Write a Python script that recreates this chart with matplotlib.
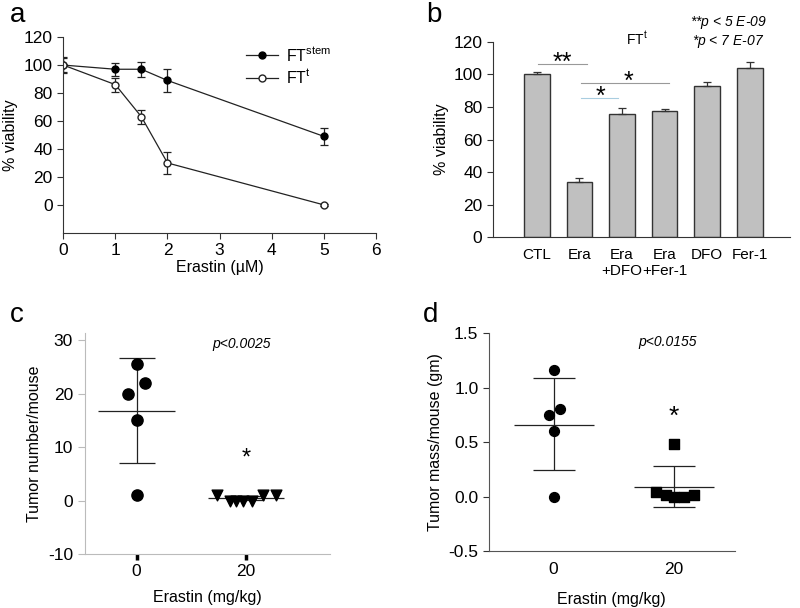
import matplotlib
matplotlib.use("Agg")
import matplotlib.pyplot as plt
from matplotlib.lines import Line2D
import numpy as np

plt.rcParams['font.family'] = ['Liberation Sans', 'DejaVu Sans']
plt.rcParams['mathtext.fontset'] = 'custom'
plt.rcParams['mathtext.rm'] = 'Liberation Sans'
plt.rcParams['mathtext.it'] = 'Liberation Sans:italic'
plt.rcParams['axes.unicode_minus'] = False

# panel a: dose response
doses_a = [0, 1, 1.5, 2, 5]
stem_vals = [100, 97, 97, 89, 49]
stem_err = [6, 4.5, 5.5, 8, 6]
ft_vals = [100, 86, 63, 30, 0]
ft_err = [5, 5, 5, 8, 0.5]

# panel b: bar chart
b_labels = ["CTL", "Era", "Era\n+DFO", "Era\n+Fer-1", "DFO", "Fer-1"]
b_vals = [100, 34, 76, 77.5, 93, 104]
b_err = [1.5, 2.5, 3.2, 1.5, 2.5, 3.5]

# panel c: tumor number
c_groups = [0, 20]
c_pts0 = [25.5, 22, 20, 15, 1]
c_jit0 = [0, 1.6, -1.5, 0, 0]
c_pts20 = [1, 0, 0, 0, 0, 1, 1]
c_jit20 = [-5.3, -2.9, -1.8, -0.5, 1.1, 3.1, 5.5]
c_mean = [16.7, 0.5]
c_lo = [7.1, 0.1]
c_hi = [26.6, 0.9]

# panel d: tumor mass
d_pts0 = [1.16, 0.80, 0.75, 0.60, 0.0]
d_jit0 = [0, 1.0, -0.7, 0, 0]
d_pts20 = [0.48, 0.04, 0.01, 0.0, 0.0, 0.01]
d_jit20 = [0, -3.0, -1.3, 0, 1.8, 3.4]
d_mean = [0.66, 0.09]
d_lo = [0.24, -0.10]
d_hi = [1.09, 0.28]

TICK = 12.5
LAB = 11.5

fig = plt.figure(figsize=(8, 6.08), dpi=100)

# ---------------- a ----------------
ax = fig.add_axes([0.079, 0.617, 0.391, 0.322])
ax.errorbar(doses_a, stem_vals, yerr=stem_err, color='#222222', lw=0.9, marker='o',
            ms=5, mfc='black', mec='black', capsize=3, elinewidth=0.9, capthick=0.9)
ax.errorbar(doses_a, ft_vals, yerr=ft_err, color='#222222', lw=0.9, marker='o',
            ms=5, mfc='white', mec='#222222', capsize=3, elinewidth=0.9, capthick=0.9)
ax.set_xlim(0, 6)
ax.set_ylim(-20, 120)
ax.set_yticks(range(0, 121, 20))
ax.set_xticks(range(0, 7))
for s in ['top', 'right']:
    ax.spines[s].set_visible(False)
for s in ['left', 'bottom']:
    ax.spines[s].set_color('#333333')
    ax.spines[s].set_linewidth(0.8)
ax.tick_params(labelsize=TICK, length=4, width=0.8, color='#333333')
ax.set_xlabel("Erastin (\u00b5M)", fontsize=LAB, labelpad=1)
ax.set_ylabel("% viability", fontsize=LAB, labelpad=4)
handles = [Line2D([], [], color='#222222', lw=0.9, marker='o', ms=5, mfc='black', mec='black'),
           Line2D([], [], color='#222222', lw=0.9, marker='o', ms=5, mfc='white', mec='#222222')]
ax.legend(handles, ["FT$^{\\mathrm{stem}}$", "FT$^{\\mathrm{t}}$"], loc='upper left',
          bbox_to_anchor=(0.54, 1.03), frameon=False, fontsize=LAB, handlelength=2.0,
          handletextpad=0.5, labelspacing=0.3)

# ---------------- b ----------------
ax = fig.add_axes([0.616, 0.610, 0.3715, 0.321])
xb = np.arange(len(b_vals))
ax.bar(xb, b_vals, width=0.6, color='#c0c0c0', edgecolor='#333333', linewidth=1.0)
ax.errorbar(xb, b_vals, yerr=[np.zeros(len(b_err)), b_err], fmt='none', ecolor='#333333',
            elinewidth=0.9, capsize=3, capthick=0.9)
ax.set_xlim(-1.03, 5.94)
ax.set_ylim(0, 120)
ax.set_yticks(range(0, 121, 20))
ax.set_xticks(xb)
ax.set_xticklabels(b_labels)
for s in ['top', 'right']:
    ax.spines[s].set_visible(False)
for s in ['left', 'bottom']:
    ax.spines[s].set_color('#333333')
    ax.spines[s].set_linewidth(0.8)
ax.tick_params(axis='y', labelsize=TICK, length=4, width=0.8, color='#333333')
ax.tick_params(axis='x', labelsize=11, length=0, pad=8)
ax.set_ylabel("% viability", fontsize=LAB, labelpad=3)
ax.plot([0.02, 1.19], [106.5, 106.5], color='#999999', lw=0.8)
ax.text(0.6, 107, "**", ha='center', va='center', fontsize=18)
ax.plot([1.05, 3.1], [94.8, 94.8], color='#999999', lw=0.8)
ax.text(2.15, 95.5, "*", ha='center', va='center', fontsize=18)
ax.plot([1.05, 1.9], [85.5, 85.5], color='#a9cde0', lw=0.8)
ax.text(1.5, 86.5, "*", ha='center', va='center', fontsize=18)
ax.text(2.35, 122, "FT$^{\\mathrm{t}}$", ha='center', va='center', fontsize=10)
ax.text(4.5, 132, "**$p$ < 5 E-09", ha='center', va='center', fontsize=10, style='italic')
ax.text(4.5, 120.5, "*$p$ < 7 E-07", ha='center', va='center', fontsize=10, style='italic')

# ---------------- c ----------------
ax = fig.add_axes([0.106, 0.0888, 0.3065, 0.3632])
ax.scatter(np.array(c_jit0) + c_groups[0], c_pts0, s=65, marker='o', color='black',
           zorder=3)
ax.scatter(np.array(c_jit20) + c_groups[1], c_pts20, s=60, marker='v', color='black',
           zorder=3)
for g, m, lo, hi in zip(c_groups, c_mean, c_lo, c_hi):
    ax.errorbar([g], [m], yerr=[[m - lo], [hi - m]], fmt='none', ecolor='#222222',
                elinewidth=0.9, capsize=13, capthick=0.9, zorder=2)
    ax.hlines(m, g - 7, g + 7, color='#222222', lw=0.9, zorder=2)
ax.set_xlim(-9.5, 35.4)
ax.set_ylim(-10, 31.3)
ax.set_yticks([-10, 0, 10, 20, 30])
ax.set_xticks(c_groups)
for s in ['top', 'right']:
    ax.spines[s].set_visible(False)
for s in ['left', 'bottom']:
    ax.spines[s].set_color('#bbbbbb')
    ax.spines[s].set_linewidth(0.8)
ax.tick_params(axis='y', labelsize=TICK, length=5, width=0.8, color='#bbbbbb')
ax.tick_params(axis='x', labelsize=TICK, length=4, width=2.5, color='black', pad=3)
ax.set_xlabel("Erastin (mg/kg)", fontsize=LAB, labelpad=8)
ax.set_ylabel("Tumor number/mouse", fontsize=LAB, labelpad=4)
ax.text(20, 7.8, "*", ha='center', va='center', fontsize=17)
ax.text(19.2, 29.3, "p<0.0025", ha='center', va='center', fontsize=10, style='italic')

# ---------------- d ----------------
ax = fig.add_axes([0.611, 0.0938, 0.3075, 0.3582])
ax.scatter(np.array(d_jit0) + c_groups[0], d_pts0, s=50, marker='o', color='black',
           zorder=3)
ax.scatter(np.array(d_jit20) + c_groups[1], d_pts20, s=45, marker='s', color='black',
           zorder=3)
for g, m, lo, hi in zip(c_groups, d_mean, d_lo, d_hi):
    ax.errorbar([g], [m], yerr=[[m - lo], [hi - m]], fmt='none', ecolor='#222222',
                elinewidth=0.9, capsize=15, capthick=0.9, zorder=2)
    ax.hlines(m, g - 6.6, g + 6.7, color='#222222', lw=0.9, zorder=2)
ax.set_xlim(-10.8, 30.2)
ax.set_ylim(-0.5, 1.5)
ax.set_yticks([-0.5, 0.0, 0.5, 1.0, 1.5])
ax.set_yticklabels(["-0.5", "0.0", "0.5", "1.0", "1.5"])
ax.set_xticks(c_groups)
for s in ['top', 'right']:
    ax.spines[s].set_visible(False)
for s in ['left', 'bottom']:
    ax.spines[s].set_color('#555555')
    ax.spines[s].set_linewidth(0.8)
ax.tick_params(axis='y', labelsize=TICK, length=4, width=0.8, color='#333333')
ax.tick_params(axis='x', labelsize=TICK, length=0, pad=8)
ax.set_xlabel("Erastin (mg/kg)", fontsize=LAB, labelpad=11)
ax.set_ylabel("Tumor mass/mouse (gm)", fontsize=LAB, labelpad=4)
ax.text(20, 0.73, "*", ha='center', va='center', fontsize=19)
ax.text(19, 1.42, "p<0.0155", ha='center', va='center', fontsize=10, style='italic')

# panel letters
fig.text(0.012, 0.975, "a", fontsize=20, va='center', ha='left')
fig.text(0.533, 0.975, "b", fontsize=20, va='center', ha='left')
fig.text(0.012, 0.482, "c", fontsize=20, va='center', ha='left')
fig.text(0.528, 0.482, "d", fontsize=20, va='center', ha='left')

fig.savefig("out.png", dpi=100)
